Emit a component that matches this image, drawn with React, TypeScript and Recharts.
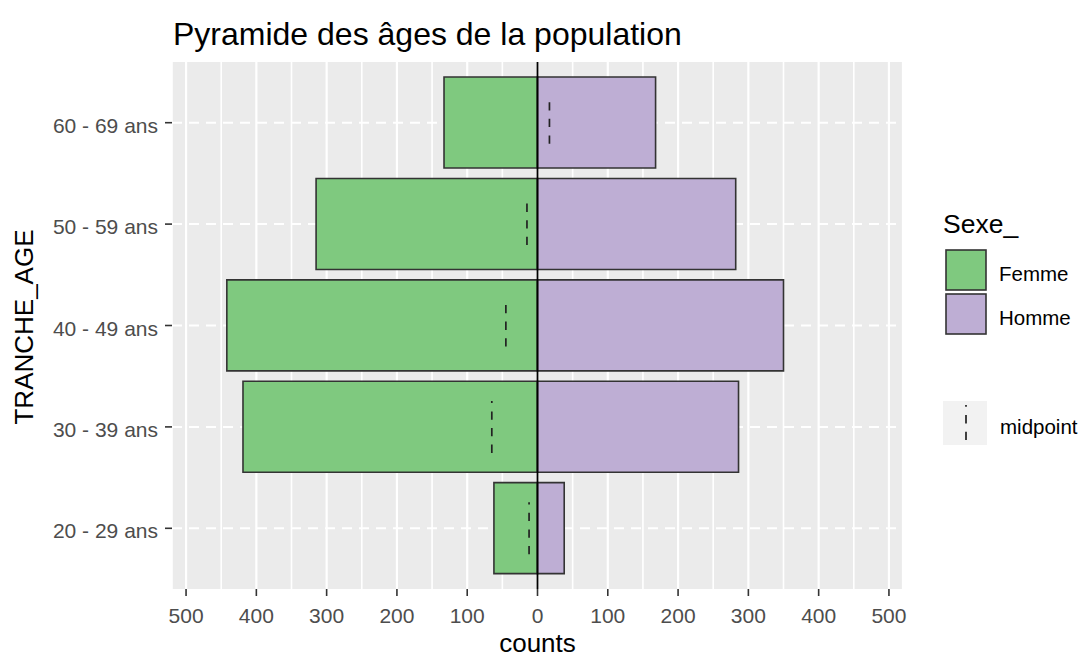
import { ComposedChart, Bar, Line, XAxis, YAxis, CartesianGrid, ReferenceLine } from "recharts";

const FONT = "'Liberation Sans', Arial, sans-serif";

const ageGroups = ["60 - 69 ans", "50 - 59 ans", "40 - 49 ans", "30 - 39 ans", "20 - 29 ans"];
const femmeCounts = [133, 315, 442, 419, 62];
const hommeCounts = [168, 282, 350, 286, 38];
const midpoints = [17, -15, -45, -65, -12];

// minor + major grid positions, labels only on the hundreds
const gridTicks = [
  -500, -450, -400, -350, -300, -250, -200, -150, -100, -50, 0,
  50, 100, 150, 200, 250, 300, 350, 400, 450, 500,
];
const labelTicks = [-500, -400, -300, -200, -100, 0, 100, 200, 300, 400, 500];

const FEMME = "#7FC97F";
const HOMME = "#BEAED4";
const OUTLINE = "#333333";
const PLOT_TOP = 62;
const PLOT_BOTTOM = 589;
// half height of each midpoint segment (px)
const MID_HALF = [21, 21, 21, 26, 26];

const rows = ageGroups.map((age, i) => ({
  age,
  femme: -femmeCounts[i],
  homme: hommeCounts[i],
  mid: midpoints[i],
}));

const renderVertical = (props: any) => {
  const { x1, x2, y1, y2, index } = props;
  const major = index % 2 === 0;
  return (
    <line
      key={`v-${index}`}
      x1={x1}
      x2={x2}
      y1={y1}
      y2={y2}
      stroke="#fff"
      strokeWidth={major ? 2.2 : 1.6}
    />
  );
};

const renderHorizontal = (props: any) => {
  const { x1, x2, y1, y2, index } = props;
  // only the category lines, not the panel edges
  if (Math.abs(y1 - PLOT_TOP) < 4 || Math.abs(y1 - PLOT_BOTTOM) < 4) return <g key={`h-${index}`} />;
  return (
    <line
      key={`h-${index}`}
      x1={x1}
      x2={x2}
      y1={y1}
      y2={y2}
      stroke="#fff"
      strokeWidth={2}
      strokeDasharray="10 7"
    />
  );
};

const XTick = (props: any) => {
  const { x, y, payload } = props;
  if (!labelTicks.includes(payload.value)) return <g />;
  return (
    <g>
      <line x1={x} x2={x} y1={y} y2={y + 7} stroke={OUTLINE} strokeWidth={1.6} />
      <text x={x} y={y + 33.5} textAnchor="middle" fill="#4D4D4D" fontSize={21} fontFamily={FONT}>
        {Math.abs(payload.value)}
      </text>
    </g>
  );
};

const YTick = (props: any) => {
  const { x, y, payload } = props;
  return (
    <g>
      <line x1={x - 7} x2={x} y1={y} y2={y} stroke={OUTLINE} strokeWidth={1.6} />
      <text x={x - 14} y={y + 10} textAnchor="end" fill="#4D4D4D" fontSize={21} fontFamily={FONT}>
        {payload.value}
      </text>
    </g>
  );
};

const MidDot = (props: any) => {
  const { cx, cy, index } = props;
  if (cx == null || cy == null) return <g key={`m-${index}`} />;
  const h = MID_HALF[index] ?? 22;
  return (
    <line
      key={`m-${index}`}
      x1={cx}
      x2={cx}
      y1={cy + h}
      y2={cy - h}
      stroke="#222"
      strokeWidth={1.7}
      strokeDasharray="8.3 8.3"
    />
  );
};

export default function App() {
  return (
    <div style={{ position: "relative", width: 1083, height: 658, background: "#fff" }}>
      <style>{"body{margin:0}"}</style>
      <ComposedChart
        width={1083}
        height={658}
        data={rows}
        layout="vertical"
        stackOffset="sign"
        barCategoryGap="5%"
        margin={{ top: PLOT_TOP, right: 180, bottom: 0, left: 0 }}
      >
        <CartesianGrid
          fill="#EBEBEB"
          fillOpacity={1}
          stroke="none"
          horizontal={renderHorizontal}
          vertical={renderVertical}
        />
        <XAxis
          type="number"
          domain={[-520, 520]}
          allowDataOverflow
          ticks={gridTicks}
          interval={0}
          height={658 - PLOT_BOTTOM}
          axisLine={false}
          tickLine={false}
          tickSize={0}
          tickMargin={0}
          tick={<XTick />}
        />
        <YAxis
          type="category"
          dataKey="age"
          width={172}
          padding={{ top: 10, bottom: 10 }}
          axisLine={false}
          tickLine={false}
          tickSize={0}
          tickMargin={0}
          interval={0}
          tick={<YTick />}
        />
        <Bar dataKey="femme" stackId="pop" fill={FEMME} stroke={OUTLINE} strokeWidth={1.6} isAnimationActive={false} />
        <Bar dataKey="homme" stackId="pop" fill={HOMME} stroke={OUTLINE} strokeWidth={1.6} isAnimationActive={false} />
        <ReferenceLine x={0} stroke="#000" strokeWidth={1.8} />
        <Line
          dataKey="mid"
          stroke="none"
          dot={MidDot}
          activeDot={false}
          legendType="none"
          isAnimationActive={false}
        />
      </ComposedChart>

      <svg
        width={1083}
        height={658}
        style={{ position: "absolute", left: 0, top: 0, pointerEvents: "none" }}
        fontFamily={FONT}
      >
        <text x={173} y={45} fontSize={32} fill="#000">
          Pyramide des âges de la population
        </text>
        <text x={537.5} y={652} fontSize={26} textAnchor="middle" fill="#000">
          counts
        </text>
        <text x={33} y={327} fontSize={26} textAnchor="middle" fill="#000" transform="rotate(-90 33 327)">
          TRANCHE_AGE
        </text>

        <text x={943} y={233} fontSize={26.5} fill="#000">
          Sexe_
        </text>
        <rect x={946} y={250} width={40} height={40} fill={FEMME} stroke={OUTLINE} strokeWidth={1.6} />
        <rect x={946} y={294} width={40} height={40} fill={HOMME} stroke={OUTLINE} strokeWidth={1.6} />
        <text x={999} y={281} fontSize={20.5} fill="#000">
          Femme
        </text>
        <text x={999} y={325} fontSize={20.5} fill="#000">
          Homme
        </text>

        <rect x={943} y={401} width={44} height={44} fill="#F2F2F2" />
        <line x1={966} x2={966} y1={440} y2={405} stroke="#222" strokeWidth={1.7} strokeDasharray="8.3 8.3" />
        <text x={1000} y={434} fontSize={20.5} fill="#000">
          midpoint
        </text>
      </svg>
    </div>
  );
}
